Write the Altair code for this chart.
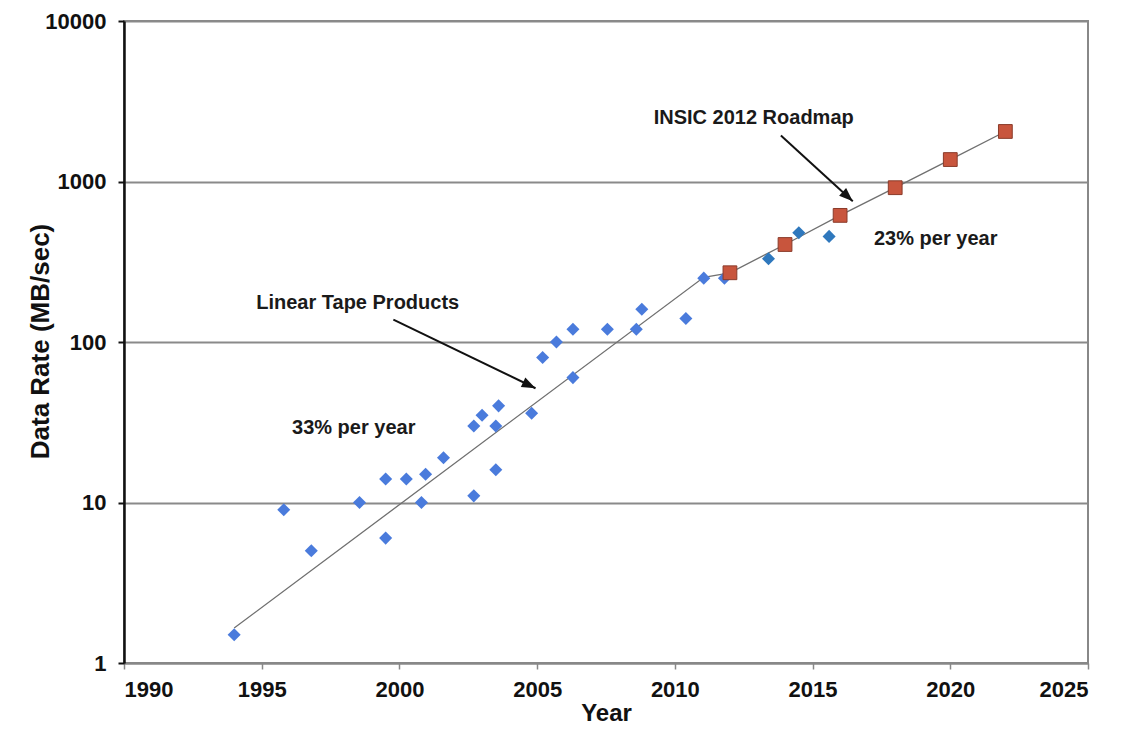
import altair as alt
import pandas as pd

# ---- data ----
lto_year = [1994.0, 1995.8, 1996.8, 1998.55, 1999.5, 1999.5, 2000.25, 2000.8, 2000.95, 2001.6,
            2002.7, 2002.7, 2003.0, 2003.6, 2003.5, 2003.5, 2004.8, 2005.2, 2005.7, 2006.3,
            2006.3, 2007.55, 2008.6, 2008.8, 2010.4, 2011.05, 2011.8]
lto_rate = [1.5, 9, 5, 10, 14, 6, 14, 10, 15, 19,
            11, 30, 35, 40, 30, 16, 36, 80, 100, 120,
            60, 120, 120, 160, 140, 250, 250]

recent_year = [2013.4, 2014.5, 2015.6]
recent_rate = [330, 480, 455]

roadmap_year = [2012, 2014, 2016, 2018, 2020, 2022]
roadmap_rate = [270, 405, 615, 915, 1370, 2050]

trend_year = [1994.0, 2011.05, 2012, 2014, 2016, 2018, 2020, 2022]
trend_rate = [1.65, 253, 270, 405, 615, 915, 1370, 2050]

note_text = ["Linear Tape Products", "33% per year", "INSIC 2012 Roadmap", "23% per year"]
note_year = [1994.8, 1996.1, 2009.23, 2017.23]
note_rate = [176, 29, 2500, 438]

arrow_year = [1999.78, 2013.85]
arrow_rate = [138, 1936]
arrow_year2 = [2004.94, 2016.46]
arrow_rate2 = [51.5, 754]
arrow_angle = [115.9, 132.5]

x_ticks = [1990, 1995, 2000, 2005, 2010, 2015, 2020, 2025]
y_ticks = [1, 10, 100, 1000, 10000]

# ---- tables ----
lto = pd.DataFrame({"year": lto_year, "rate": lto_rate})
recent = pd.DataFrame({"year": recent_year, "rate": recent_rate})
roadmap = pd.DataFrame({"year": roadmap_year, "rate": roadmap_rate})
trend = pd.DataFrame({"year": trend_year, "rate": trend_rate, "o": list(range(len(trend_year)))})
notes = pd.DataFrame({"text": note_text, "year": note_year, "rate": note_rate})
arrows = pd.DataFrame({"year": arrow_year, "rate": arrow_rate,
                       "year2": arrow_year2, "rate2": arrow_rate2, "angle": arrow_angle})

FONT = "Liberation Sans"

xs = alt.Scale(domain=[1990, 2025], nice=False, zero=False)
ys = alt.Scale(type="log", domain=[1, 10000], nice=False)

x_axis = alt.Axis(values=x_ticks, format="d", title="Year", grid=False,
                  labelFont=FONT, labelFontSize=22, labelFontWeight="bold", labelColor="#111",
                  labelPadding=10, labelBaseline="top",
                  tickSize=6, tickColor="#888", tickWidth=1.5,
                  domainColor="#888", domainWidth=2,
                  titleFont=FONT, titleFontSize=24, titleFontWeight="bold", titleColor="#111",
                  titleY=57, titleBaseline="alphabetic")
y_axis = alt.Axis(values=y_ticks, format="d", title="Data Rate (MB/sec)", grid=True,
                  gridColor="#8a8a8a", gridWidth=2,
                  labelFont=FONT, labelFontSize=22, labelFontWeight="bold", labelColor="#111",
                  labelPadding=12, tickSize=6, tickColor="#111", tickWidth=2,
                  domainColor="#111", domainWidth=2.5,
                  titleFont=FONT, titleFontSize=26, titleFontWeight="bold", titleColor="#111",
                  titleAngle=270, titleX=-76, titleY=320, titleAlign="center",
                  titleBaseline="alphabetic")

base_x = alt.X("year:Q", scale=xs, axis=x_axis)
base_y = alt.Y("rate:Q", scale=ys, axis=y_axis)

trend_line = alt.Chart(trend).mark_line(color="#707070", strokeWidth=1.3).encode(
    x=base_x, y=base_y, order="o:Q")

lto_pts = alt.Chart(lto).mark_point(shape="diamond", filled=True, size=170,
                                    color="#4a7bdc", opacity=1).encode(
    x=alt.X("year:Q", scale=xs), y=alt.Y("rate:Q", scale=ys))

recent_pts = alt.Chart(recent).mark_point(shape="diamond", filled=True, size=170,
                                          color="#2f78bd", opacity=1).encode(
    x=alt.X("year:Q", scale=xs), y=alt.Y("rate:Q", scale=ys))

roadmap_pts = alt.Chart(roadmap).mark_point(shape="square", filled=True, size=190,
                                            fill="#c8553d", stroke="#8a3b2a",
                                            strokeWidth=1, opacity=1).encode(
    x=alt.X("year:Q", scale=xs), y=alt.Y("rate:Q", scale=ys))

arrow_lines = alt.Chart(arrows).mark_rule(color="#111", strokeWidth=2).encode(
    x=alt.X("year:Q", scale=xs), y=alt.Y("rate:Q", scale=ys),
    x2="year2:Q", y2="rate2:Q")

arrow_heads = alt.Chart(arrows).mark_point(shape="M0,0L-0.75,2L0.75,2Z", filled=True,
                                           size=190, color="#111", opacity=1).encode(
    x=alt.X("year2:Q", scale=xs), y=alt.Y("rate2:Q", scale=ys),
    angle=alt.Angle("angle:Q", scale=None))

note_marks = alt.Chart(notes).mark_text(align="left", baseline="middle", font=FONT,
                                        fontSize=20, fontWeight="bold", color="#1a1a1a").encode(
    x=alt.X("year:Q", scale=xs), y=alt.Y("rate:Q", scale=ys), text="text:N")

chart = alt.layer(trend_line, lto_pts, recent_pts, roadmap_pts, arrow_lines, arrow_heads,
                  note_marks).properties(
    width=964, height=642,
    autosize=alt.AutoSizeParams(type="none"),
    padding={"left": 116, "top": 13, "right": 28, "bottom": 65},
    background="white",
).configure_view(stroke="#888", strokeWidth=2)

chart.save("out.html", embed_options={"renderer": "svg", "actions": False})
